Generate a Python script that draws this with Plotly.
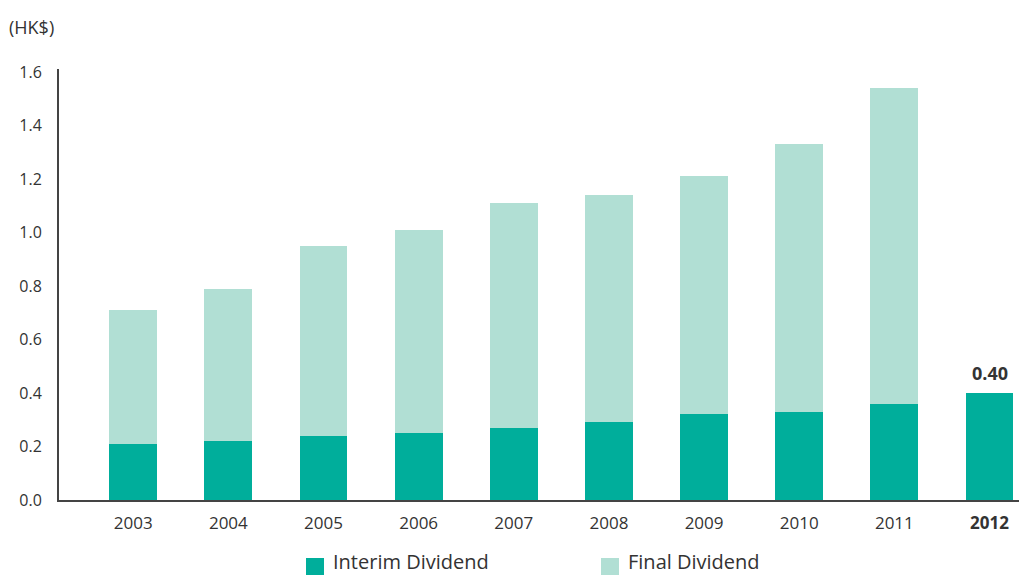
import plotly.graph_objects as go

years = ["2003", "2004", "2005", "2006", "2007", "2008", "2009", "2010", "2011", "2012"]
interim = [0.21, 0.22, 0.24, 0.25, 0.27, 0.29, 0.32, 0.33, 0.36, 0.40]
final = [0.50, 0.57, 0.71, 0.76, 0.84, 0.85, 0.89, 1.00, 1.18, None]
tick_text = ["2003", "2004", "2005", "2006", "2007", "2008", "2009", "2010", "2011", "<b>2012</b>"]
y_ticks = [0.0, 0.2, 0.4, 0.6, 0.8, 1.0, 1.2, 1.4, 1.6]
y_tick_text = ["0.0", "0.2", "0.4", "0.6", "0.8", "1.0", "1.2", "1.4", "1.6"]

C_INTERIM = "#00AE9B"
C_FINAL = "#B1DFD4"
TXT = "#333333"
FONT = "Open Sans"

fig = go.Figure()
fig.add_trace(go.Bar(x=years, y=interim, name="Interim Dividend", marker_color=C_INTERIM,
                     marker_line_width=0, showlegend=False))
fig.add_trace(go.Bar(x=years, y=final, name="Final Dividend", marker_color=C_FINAL,
                     marker_line_width=0, showlegend=False))

fig.add_annotation(x=len(years) - 1, y=interim[-1], text="<b>%.2f</b>" % interim[-1], showarrow=False,
                   yanchor="bottom", yshift=6, font=dict(size=18, color=TXT, family=FONT))

plot_left, plot_w, plot_top, plot_h = 59, 960, 69, 431
fig.add_annotation(xref="paper", yref="paper", x=(7 - plot_left) / plot_w, y=(500 - 27) / plot_h,
                   text="(HK$)", showarrow=False, xanchor="left", yanchor="middle",
                   font=dict(size=18, color=TXT, family=FONT))

# legend drawn manually
legend_items = [("Interim Dividend", C_INTERIM, 306), ("Final Dividend", C_FINAL, 601)]
for label, col, px in legend_items:
    x0 = (px - plot_left) / plot_w
    x1 = (px + 18 - plot_left) / plot_w
    y0 = (500 - 576) / plot_h
    y1 = (500 - 558) / plot_h
    fig.add_shape(type="rect", xref="paper", yref="paper", x0=x0, x1=x1, y0=y0, y1=y1,
                  fillcolor=col, line_width=0)
    fig.add_annotation(xref="paper", yref="paper", x=(px + 25 - plot_left) / plot_w,
                       y=(500 - 561) / plot_h, text=label, showarrow=False, xanchor="left",
                       yanchor="middle", font=dict(size=20, color=TXT, family=FONT))

fig.update_layout(
    width=1019, height=575,
    margin=dict(l=59, r=0, t=69, b=75, autoexpand=False),
    barmode="stack", bargap=0.496,
    plot_bgcolor="white", paper_bgcolor="white",
    font=dict(family=FONT, size=17, color=TXT),
    xaxis=dict(type="category", range=[-0.78, 9.31], tickvals=years, ticktext=tick_text,
               showline=True, linecolor="#444444", linewidth=2, showgrid=False, ticks="",
               ticklabelstandoff=7, tickfont=dict(size=17, color=TXT)),
    yaxis=dict(range=[0, 1.611], tickvals=y_ticks, ticktext=y_tick_text,
               showline=True, linecolor="#444444", linewidth=2, showgrid=False, ticks="",
               zeroline=False, ticklabelstandoff=12, tickfont=dict(size=16, color=TXT)),
)

fig.write_html("out.html")
